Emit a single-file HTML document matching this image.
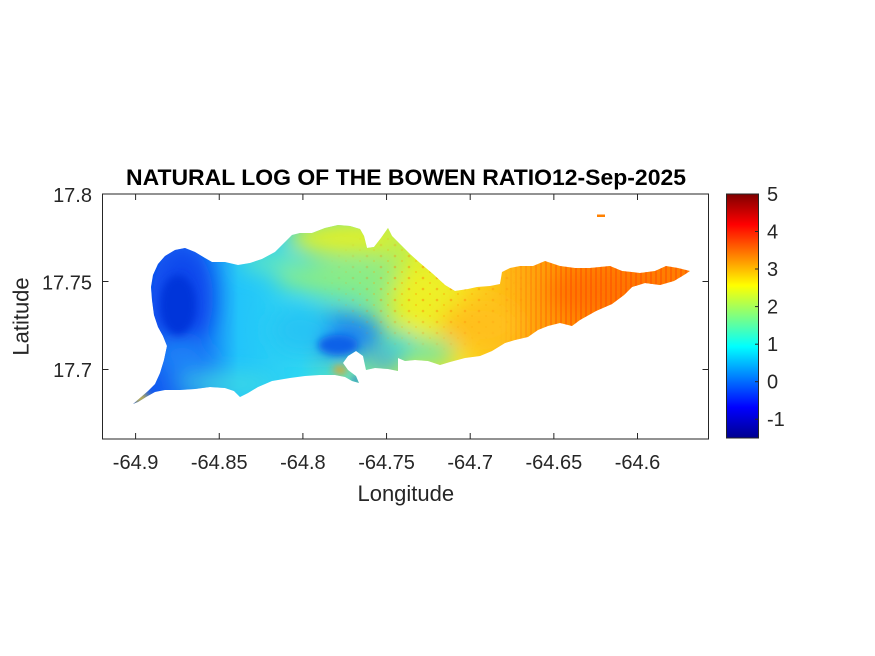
<!DOCTYPE html>
<html><head><meta charset="utf-8"><style>
html,body{margin:0;padding:0;background:#fff;}
svg{display:block;}
text{font-family:"Liberation Sans",Arial,sans-serif;fill:#262626;}
</style></head><body>
<svg width="875" height="656" viewBox="0 0 875 656" xmlns="http://www.w3.org/2000/svg">
<defs>
<clipPath id="isl"><path d="M133,404 L140,398 L148,391 L155,384 L160,373 L164,360 L167,346 L163,336 L158,327 L154,315 L152,300 L151,287 L153,275 L158,264 L165,256 L175,250 L185,248 L195,252 L205,258 L212,262 L225,262 L238,265 L250,263 L262,259 L275,252 L285,242 L292,235 L300,233 L312,233 L325,228 L338,225 L350,226 L360,229 L364,236 L367,248 L374,247 L381,238 L388,228 L392,236 L402,246 L410,254 L420,263 L433,274 L445,285 L455,291 L468,289 L477,287 L490,286 L500,284 L502,272 L510,268 L520,266 L533,266 L545,261 L560,266 L575,268 L590,268 L610,266 L622,271 L640,273 L655,271 L666,266 L678,268 L690,271 L684,275 L674,281 L660,285 L645,283 L632,287 L624,295 L612,304 L596,311 L580,320 L572,326 L560,323 L548,326 L538,330 L528,337 L515,340 L505,343 L492,351 L480,356 L465,358 L450,362 L440,365 L428,361 L415,360 L405,361 L398,358 L398,371 L388,369 L375,368 L366,370 L363,356 L356,351 L348,356 L343,363 L348,370 L356,376 L359,383 L352,381 L345,377 L335,375 L320,375 L305,376 L290,378 L272,381 L258,387 L248,393 L240,397 L234,391 L225,388 L210,387 L195,389 L180,390 L165,390 L155,392 L146,397 L138,402 Z"/></clipPath>
<linearGradient id="base" gradientUnits="userSpaceOnUse" x1="130" y1="0" x2="700" y2="0">
<stop offset="0.035" stop-color="#1258f0"/>
<stop offset="0.12" stop-color="#1470f6"/>
<stop offset="0.19" stop-color="#22c4fa"/>
<stop offset="0.30" stop-color="#2ed6f2"/>
<stop offset="0.40" stop-color="#6ee6a8"/>
<stop offset="0.50" stop-color="#d4f036"/>
<stop offset="0.58" stop-color="#f8e020"/>
<stop offset="0.68" stop-color="#ffb012"/>
<stop offset="0.77" stop-color="#ff8c00"/>
<stop offset="1" stop-color="#ff7c00"/>
</linearGradient>
<linearGradient id="jet" gradientUnits="userSpaceOnUse" x1="0" y1="438" x2="0" y2="194">
<stop offset="0" stop-color="#00008f"/>
<stop offset="0.125" stop-color="#0000ff"/>
<stop offset="0.375" stop-color="#00ffff"/>
<stop offset="0.625" stop-color="#ffff00"/>
<stop offset="0.875" stop-color="#ff0000"/>
<stop offset="1" stop-color="#800000"/>
</linearGradient>
<linearGradient id="fade" gradientUnits="userSpaceOnUse" x1="500" y1="0" x2="570" y2="0">
<stop offset="0" stop-color="#000"/>
<stop offset="1" stop-color="#fff"/>
</linearGradient>
<radialGradient id="rfade" cx="0.5" cy="0.5" r="0.5">
<stop offset="0.3" stop-color="#fff"/>
<stop offset="1" stop-color="#000"/>
</radialGradient>
<mask id="stripeMask" maskUnits="userSpaceOnUse" x="0" y="0" width="875" height="656">
<rect x="480" y="250" width="230" height="110" fill="url(#fade)"/>
</mask>
<mask id="speckMask" maskUnits="userSpaceOnUse" x="0" y="0" width="875" height="656">
<ellipse cx="430" cy="285" rx="110" ry="70" fill="url(#rfade)"/>
</mask>
<filter id="blur" filterUnits="userSpaceOnUse" x="0" y="0" width="875" height="656"><feGaussianBlur stdDeviation="11"/></filter>
<filter id="blur2" filterUnits="userSpaceOnUse" x="0" y="0" width="875" height="656"><feGaussianBlur stdDeviation="4"/></filter>
<pattern id="stripes" patternUnits="userSpaceOnUse" width="5" height="6">
<rect x="0" y="0" width="2" height="6" fill="#ff4a00"/>
</pattern>
<pattern id="specks" patternUnits="userSpaceOnUse" width="14" height="11">
<circle cx="3" cy="3" r="1.3" fill="#ff7000"/>
<circle cx="10" cy="8" r="1.1" fill="#ffa000"/>
</pattern>
</defs>

<!-- island -->
<g clip-path="url(#isl)">
<rect x="120" y="215" width="590" height="200" fill="url(#base)"/>
<g filter="url(#blur)">
<ellipse cx="183" cy="298" rx="30" ry="52" fill="#0a46ec"/>
<ellipse cx="182" cy="355" rx="30" ry="16" fill="#1a84f8"/>
<ellipse cx="225" cy="384" rx="50" ry="9" fill="#42dce0"/>
<ellipse cx="270" cy="262" rx="30" ry="10" fill="#60e6c0"/>
<ellipse cx="345" cy="238" rx="58" ry="18" fill="#e0f02c"/>
<ellipse cx="335" cy="278" rx="60" ry="14" fill="#90ee80"/>
<ellipse cx="338" cy="335" rx="45" ry="22" fill="#1c86f0"/>
<ellipse cx="300" cy="330" rx="30" ry="25" fill="#28c4f4"/>
<ellipse cx="385" cy="362" rx="15" ry="8" fill="#2e96f2"/>
<ellipse cx="425" cy="300" rx="30" ry="35" fill="#eef028"/>
<ellipse cx="430" cy="352" rx="25" ry="12" fill="#70e4a8"/>
<ellipse cx="400" cy="345" rx="18" ry="12" fill="#40d8d8"/>
<ellipse cx="480" cy="325" rx="40" ry="25" fill="#ffc01e"/>
<ellipse cx="610" cy="292" rx="60" ry="25" fill="#ff7600"/>
</g>
<g filter="url(#blur2)">
<ellipse cx="178" cy="305" rx="18" ry="30" fill="#0436da"/>
<ellipse cx="140" cy="398" rx="9" ry="5" fill="#f0c820"/>
<ellipse cx="340" cy="370" rx="7" ry="4" fill="#f0a020"/>
<ellipse cx="356" cy="380" rx="4" ry="3" fill="#1040e0"/>
<ellipse cx="338" cy="345" rx="20" ry="10" fill="#1060e8"/>
</g>
<rect x="480" y="250" width="230" height="110" fill="url(#stripes)" opacity="0.45" mask="url(#stripeMask)"/>
<rect x="300" y="215" width="260" height="150" fill="url(#specks)" opacity="0.4" mask="url(#speckMask)"/>
</g>
<rect x="597" y="214.5" width="8" height="2.5" fill="#ff8000"/>

<!-- axes box -->
<rect x="102.5" y="194" width="606" height="245" fill="none" stroke="#262626" stroke-width="1"/>
<g stroke="#262626" stroke-width="1">
<line x1="135.6" y1="439" x2="135.6" y2="433"/><line x1="135.6" y1="194" x2="135.6" y2="200"/>
<line x1="219.25" y1="439" x2="219.25" y2="433"/><line x1="219.25" y1="194" x2="219.25" y2="200"/>
<line x1="302.9" y1="439" x2="302.9" y2="433"/><line x1="302.9" y1="194" x2="302.9" y2="200"/>
<line x1="386.55" y1="439" x2="386.55" y2="433"/><line x1="386.55" y1="194" x2="386.55" y2="200"/>
<line x1="470.2" y1="439" x2="470.2" y2="433"/><line x1="470.2" y1="194" x2="470.2" y2="200"/>
<line x1="553.85" y1="439" x2="553.85" y2="433"/><line x1="553.85" y1="194" x2="553.85" y2="200"/>
<line x1="637.5" y1="439" x2="637.5" y2="433"/><line x1="637.5" y1="194" x2="637.5" y2="200"/>
<line x1="102.5" y1="281.5" x2="108.5" y2="281.5"/><line x1="708.5" y1="281.5" x2="702.5" y2="281.5"/>
<line x1="102.5" y1="369.5" x2="108.5" y2="369.5"/><line x1="708.5" y1="369.5" x2="702.5" y2="369.5"/>
</g>

<!-- tick labels -->
<g font-size="20" text-anchor="middle">
<text x="135.6" y="469">-64.9</text>
<text x="219.25" y="469">-64.85</text>
<text x="302.9" y="469">-64.8</text>
<text x="386.55" y="469">-64.75</text>
<text x="470.2" y="469">-64.7</text>
<text x="553.85" y="469">-64.65</text>
<text x="637.5" y="469">-64.6</text>
</g>
<g font-size="20" text-anchor="end">
<text x="92" y="202">17.8</text>
<text x="92" y="289.5">17.75</text>
<text x="92" y="377">17.7</text>
</g>

<text x="405.8" y="501" font-size="22" text-anchor="middle">Longitude</text>
<text transform="translate(28.5,316.5) rotate(-90)" font-size="22" text-anchor="middle">Latitude</text>
<text x="406" y="185" font-size="22" font-weight="bold" text-anchor="middle" textLength="560" lengthAdjust="spacingAndGlyphs" style="fill:#000">NATURAL LOG OF THE BOWEN RATIO12-Sep-2025</text>

<!-- colorbar -->
<rect x="726.5" y="194" width="32" height="244" fill="url(#jet)" stroke="#262626" stroke-width="1"/>
<g stroke="#262626" stroke-width="1">
<line x1="758.5" y1="231.5" x2="755" y2="231.5"/>
<line x1="758.5" y1="269" x2="755" y2="269"/>
<line x1="758.5" y1="306.6" x2="755" y2="306.6"/>
<line x1="758.5" y1="344.2" x2="755" y2="344.2"/>
<line x1="758.5" y1="381.7" x2="755" y2="381.7"/>
<line x1="758.5" y1="419.2" x2="755" y2="419.2"/>
</g>
<g font-size="20">
<text x="767" y="201">5</text>
<text x="767" y="238.5">4</text>
<text x="767" y="276">3</text>
<text x="767" y="313.6">2</text>
<text x="767" y="351.2">1</text>
<text x="767" y="388.7">0</text>
<text x="767" y="426.2">-1</text>
</g>
</svg>
</body></html>
